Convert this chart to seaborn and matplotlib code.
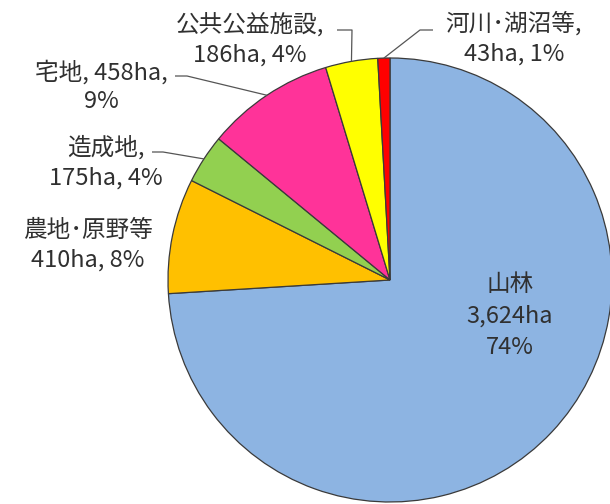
import numpy as np
import matplotlib
matplotlib.use('Agg')
import matplotlib.pyplot as plt
import seaborn as sns

categories = ['山林', '農地･原野等', '造成地', '宅地', '公共公益施設', '河川･湖沼等']
areas = [3624, 410, 175, 458, 186, 43]
percents = [74, 8, 4, 9, 4, 1]
colors = ['#8DB4E2', '#FFC000', '#92D050', '#FF3399', '#FFFF00', '#FF0000']

sns.set_theme(style='white')
plt.rcParams['font.family'] = ['Noto Sans CJK JP', 'DejaVu Sans']

W, H = 610, 504
fig = plt.figure(figsize=(W / 100, H / 100), dpi=100)
ax = fig.add_axes([0, 0, 1, 1])
cx, cy, R = 390, 280, 222

wedges, _ = ax.pie(areas, colors=colors, startangle=90, counterclock=False,
                   wedgeprops=dict(edgecolor='#3a3a3a', linewidth=0.9))
ax.set_xlim(-cx / R, (W - cx) / R)
ax.set_ylim(-(H - cy) / R, cy / R)
ax.set_aspect('equal')
ax.axis('off')


def P(px, py):
    return ((px - cx) / R, (cy - py) / R)


def edge_point(w):
    a = np.deg2rad((w.theta1 + w.theta2) / 2)
    return (np.cos(a), np.sin(a))


tc = '#303030'
fs = 17

labels = [
    f"{categories[0]}\n{areas[0]:,}ha\n{percents[0]}%",
    f"{categories[1]}\n{areas[1]}ha, {percents[1]}%",
    f"{categories[2]},\n{areas[2]}ha, {percents[2]}%",
    f"{categories[3]}, {areas[3]}ha,\n{percents[3]}%",
    f"{categories[4]},\n{areas[4]}ha, {percents[4]}%",
    f"{categories[5]},\n{areas[5]}ha, {percents[5]}%",
]
label_pos = [(510, 316), (88, 245), (106, 162), (101, 86), (250, 39), (514, 38)]
line_sp = [1.45, 1.38, 1.38, 1.3, 1.38, 1.38]
# leader lines: (start of horizontal segment, end of horizontal segment)
leaders = {2: ((152, 152), (163, 152)),
           3: ((175, 76), (187, 76)),
           4: ((337, 30), (352, 30)),
           5: ((433, 30), (420, 30))}

for i, (txt, pos) in enumerate(zip(labels, label_pos)):
    ax.text(*P(*pos), txt, ha='center', va='center', fontsize=fs,
            color=tc, linespacing=line_sp[i])

for i, (s, e) in leaders.items():
    ex, ey = edge_point(wedges[i])
    x0, y0 = P(*s)
    x1, y1 = P(*e)
    ax.plot([x0, x1, ex], [y0, y1, ey], color='#555555', lw=0.9,
            solid_capstyle='butt')

fig.savefig('out.png', dpi=100)
